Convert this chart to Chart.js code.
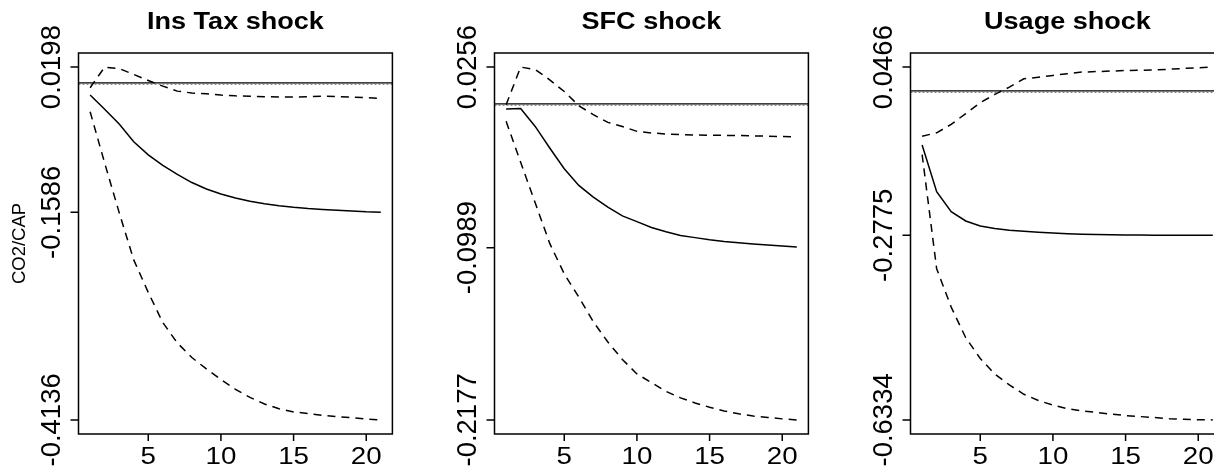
<!DOCTYPE html>
<html>
<head>
<meta charset="utf-8">
<script src="https://cdn.jsdelivr.net/npm/chart.js@4.4.1/dist/chart.umd.min.js"></script>
<style>
  html, body { margin: 0; padding: 0; background: #fff; width: 1214px; height: 468px; overflow: hidden; }
  canvas { position: absolute; top: 0; }
</style>
</head>
<body>
<canvas id="panel0" width="416" height="468" style="left:0px"></canvas>
<canvas id="panel1" width="416" height="468" style="left:416px"></canvas>
<canvas id="panel2" width="416" height="468" style="left:832px"></canvas>
<script>
// horizons
const horizon = [1, 2, 3, 4, 5, 6, 7, 8, 9, 10, 11, 12, 13, 14, 15, 16, 17, 18, 19, 20, 21];
const xTicks = [5, 10, 15, 20];
const titles = ['Ins Tax shock', 'SFC shock', 'Usage shock'];
const yAxisTitle = 'CO2/CAP';

// Ins Tax shock
const irfInsTax = [-0.0144, -0.032, -0.050, -0.072, -0.088, -0.101, -0.112, -0.122, -0.130, -0.136, -0.141,
  -0.145, -0.148, -0.1505, -0.1525, -0.154, -0.155, -0.156, -0.157, -0.158, -0.1586];
const upperInsTax = [-0.0055, 0.0198, 0.018, 0.0108, 0.0034, -0.0036, -0.0097, -0.012, -0.0128, -0.0145, -0.0155,
  -0.016, -0.0165, -0.017, -0.017, -0.0165, -0.016, -0.0165, -0.017, -0.0178, -0.0185];
const lowerInsTax = [-0.035, -0.098, -0.159, -0.217, -0.257, -0.294, -0.319, -0.337, -0.351, -0.364, -0.376,
  -0.386, -0.394, -0.400, -0.4038, -0.4057, -0.408, -0.4096, -0.411, -0.4125, -0.4136];
const yTicksInsTax = [0.0198, -0.1586, -0.4136];

// SFC shock
const irfSFC = [-0.0033, -0.0029, -0.0153, -0.0302, -0.0445, -0.056, -0.064, -0.071, -0.077, -0.081, -0.085,
  -0.088, -0.0905, -0.092, -0.0935, -0.0947, -0.0956, -0.0964, -0.097, -0.0977, -0.0985];
const upperSFC = [-0.0003, 0.0256, 0.024, 0.0168, 0.0088, -0.001, -0.0072, -0.0125, -0.0153, -0.0187, -0.0198,
  -0.0205, -0.021, -0.0212, -0.0214, -0.0215, -0.0216, -0.0218, -0.022, -0.0223, -0.0226];
const lowerSFC = [-0.0118, -0.040, -0.068, -0.096, -0.117, -0.133, -0.150, -0.164, -0.176, -0.186, -0.192,
  -0.198, -0.2025, -0.206, -0.209, -0.2115, -0.2135, -0.215, -0.216, -0.217, -0.2177];
const yTicksSFC = [0.0256, -0.0989, -0.2177];

// Usage shock
const irfUsage = [-0.1036, -0.1934, -0.232, -0.250, -0.2597, -0.2647, -0.268, -0.270, -0.2715, -0.273, -0.2745,
  -0.2755, -0.276, -0.2765, -0.277, -0.2772, -0.2773, -0.2774, -0.2775, -0.2775, -0.2775];
const upperUsage = [-0.0866, -0.080, -0.0638, -0.043, -0.022, -0.006, 0.008, 0.024, 0.027, 0.0306, 0.034,
  0.037, 0.038, 0.039, 0.040, 0.0405, 0.041, 0.0425, 0.044, 0.0455, 0.0466];
const lowerUsage = [-0.122, -0.342, -0.416, -0.475, -0.515, -0.545, -0.566, -0.584, -0.596, -0.605, -0.612,
  -0.616, -0.619, -0.6224, -0.625, -0.627, -0.629, -0.631, -0.632, -0.633, -0.6334];
const yTicksUsage = [0.0466, -0.2775, -0.6334];

const panels = [
  { irf: irfInsTax, upper: upperInsTax, lower: lowerInsTax, yTicks: yTicksInsTax, yLabel: yAxisTitle },
  { irf: irfSFC, upper: upperSFC, lower: lowerSFC, yTicks: yTicksSFC, yLabel: '' },
  { irf: irfUsage, upper: upperUsage, lower: lowerUsage, yTicks: yTicksUsage, yLabel: '' }
];

const FONT = '"Liberation Sans", Arial, Helvetica, sans-serif';

function stretchedText(ctx, text, x, y, sx) {
  ctx.save();
  ctx.translate(x, y);
  ctx.scale(sx, 1);
  ctx.fillText(text, 0, 0);
  ctx.restore();
}

// base-R style frame, axes and labels
const rAxes = {
  id: 'rAxes',
  beforeDatasetsDraw(chart) {
    const { ctx, chartArea: a, scales: { y } } = chart;
    const y0 = y.getPixelForValue(0);
    ctx.save();
    ctx.strokeStyle = '#000';
    ctx.lineWidth = 1.4;
    ctx.beginPath();
    ctx.moveTo(a.left, y0 - 0.4);
    ctx.lineTo(a.right, y0 - 0.4);
    ctx.stroke();
    ctx.strokeStyle = '#555';
    ctx.lineWidth = 1;
    ctx.setLineDash([2, 2]);
    ctx.beginPath();
    ctx.moveTo(a.left, y0 + 0.9);
    ctx.lineTo(a.right, y0 + 0.9);
    ctx.stroke();
    ctx.restore();
  },
  afterDatasetsDraw(chart, args, opts) {
    const { ctx, chartArea: a, scales: { x, y } } = chart;
    ctx.save();
    ctx.strokeStyle = '#000';
    ctx.lineWidth = 1.5;
    ctx.strokeRect(a.left, a.top, a.right - a.left, a.bottom - a.top);

    ctx.beginPath();
    xTicks.forEach(t => {
      const px = x.getPixelForValue(t);
      ctx.moveTo(px, a.bottom);
      ctx.lineTo(px, a.bottom + 7);
    });
    opts.yTicks.forEach(t => {
      const py = y.getPixelForValue(t);
      ctx.moveTo(a.left, py);
      ctx.lineTo(a.left - 8, py);
    });
    ctx.stroke();

    ctx.fillStyle = '#000';
    ctx.textAlign = 'center';
    ctx.textBaseline = 'alphabetic';

    // x tick labels
    ctx.font = '23.5px ' + FONT;
    xTicks.forEach(t => {
      stretchedText(ctx, String(t), x.getPixelForValue(t), a.bottom + 29.5, 1.18);
    });

    // y tick labels, rotated
    ctx.font = '27.5px ' + FONT;
    opts.yTicks.forEach(t => {
      ctx.save();
      ctx.translate(a.left - 18.7, y.getPixelForValue(t));
      ctx.rotate(-Math.PI / 2);
      ctx.fillText(t.toFixed(4), 0, 0);
      ctx.restore();
    });

    // y axis title
    if (opts.yLabel) {
      ctx.font = '18.5px ' + FONT;
      ctx.save();
      ctx.translate(a.left - 53.7, (a.top + a.bottom) / 2);
      ctx.rotate(-Math.PI / 2);
      ctx.fillText(opts.yLabel, 0, 0);
      ctx.restore();
    }

    // panel title
    ctx.font = 'bold 24.6px ' + FONT;
    stretchedText(ctx, opts.title, (a.left + a.right) / 2, 29.3, 1.1);
    ctx.restore();
  }
};

function series(values, dashed) {
  return {
    data: values.map((v, i) => ({ x: horizon[i], y: v })),
    borderColor: '#000',
    borderWidth: 1.5,
    borderDash: dashed ? [8, 6] : [],
    pointRadius: 0,
    tension: 0,
    fill: false
  };
}

panels.forEach((p, i) => {
  const all = p.irf.concat(p.upper, p.lower);
  const hi = Math.max(...all), lo = Math.min(...all);
  const pad = (hi - lo) * 0.04;

  new Chart(document.getElementById('panel' + i), {
    type: 'line',
    data: {
      datasets: [series(p.upper, true), series(p.irf, false), series(p.lower, true)]
    },
    options: {
      responsive: false,
      animation: false,
      devicePixelRatio: 1,
      layout: { padding: { left: 78.5, right: 23.6, top: 53, bottom: 34 } },
      plugins: {
        legend: { display: false },
        tooltip: { enabled: false },
        rAxes: { title: titles[i], yTicks: p.yTicks, yLabel: p.yLabel }
      },
      scales: {
        x: { type: 'linear', min: 0.2, max: 21.8, display: false },
        y: { type: 'linear', min: lo - pad, max: hi + pad, display: false }
      }
    },
    plugins: [rAxes]
  });
});
</script>
</body>
</html>
